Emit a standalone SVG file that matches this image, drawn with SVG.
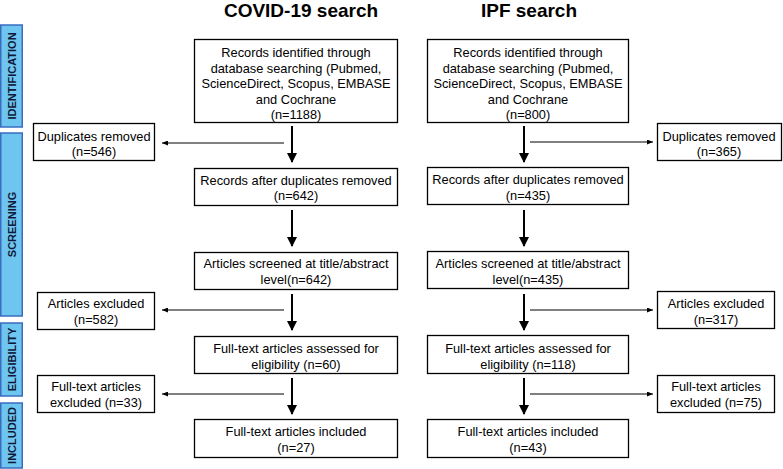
<svg xmlns="http://www.w3.org/2000/svg" width="783" height="469" viewBox="0 0 783 469">
<defs>
<style>
.bar{fill:#6ec5f0;stroke:#3a6cc0;stroke-width:1.5}
.bt{font-family:"Liberation Sans",Arial,sans-serif;font-weight:bold;font-size:11px;fill:#0f1a3a;text-anchor:middle}
.box{fill:#fff;stroke:#000;stroke-width:1.3}
.t{font-family:"Liberation Sans",Arial,sans-serif;font-size:12.8px;fill:#000;text-anchor:middle}
.h{font-family:"Liberation Sans",Arial,sans-serif;font-weight:bold;font-size:19px;fill:#000;text-anchor:middle}
.main{stroke:#000;stroke-width:2;fill:none}
.side{stroke:#000;stroke-width:1;fill:none}
</style>
<marker id="big" markerWidth="10" markerHeight="10" refX="9" refY="5" orient="auto" markerUnits="userSpaceOnUse">
<path d="M0,0 L10,5 L0,10 Z" fill="#000"/>
</marker>
<marker id="small" markerWidth="6" markerHeight="5" refX="6" refY="2.5" orient="auto" markerUnits="userSpaceOnUse">
<path d="M0,0 L6,2.5 L0,5 Z" fill="#000"/>
</marker>
</defs>
<rect width="783" height="469" fill="#fff"/>

<g id="phases">
<g id="phase-identification"><rect class="bar" x="0.75" y="25" width="21.5" height="102"/><text class="bt" transform="translate(15.5,76) rotate(-90)">IDENTIFICATION</text></g>
<g id="phase-screening"><rect class="bar" x="0.75" y="133" width="21.5" height="183"/><text class="bt" transform="translate(15.5,224.5) rotate(-90)">SCREENING</text></g>
<g id="phase-eligibility"><rect class="bar" x="0.75" y="323" width="21.5" height="73"/><text class="bt" transform="translate(15.5,359.5) rotate(-90)">ELIGIBILITY</text></g>
<g id="phase-included"><rect class="bar" x="0.75" y="403" width="21.5" height="65"/><text class="bt" transform="translate(15.5,435.5) rotate(-90)">INCLUDED</text></g>
</g>

<text class="h" x="301" y="17">COVID-19 search</text>
<text class="h" x="529" y="17">IPF search</text>

<g id="connectors">
<line class="main" x1="292" y1="126" x2="292" y2="162" marker-end="url(#big)"/>
<line class="main" x1="292" y1="210" x2="292" y2="246" marker-end="url(#big)"/>
<line class="main" x1="292" y1="294" x2="292" y2="330" marker-end="url(#big)"/>
<line class="main" x1="292" y1="378" x2="292" y2="414" marker-end="url(#big)"/>
<line class="side" x1="284" y1="143" x2="162" y2="143" marker-end="url(#small)"/>
<line class="side" x1="284" y1="310" x2="162" y2="310" marker-end="url(#small)"/>
<line class="side" x1="284" y1="394" x2="162" y2="394" marker-end="url(#small)"/>

<line class="main" x1="524" y1="126" x2="524" y2="162" marker-end="url(#big)"/>
<line class="main" x1="524" y1="210" x2="524" y2="246" marker-end="url(#big)"/>
<line class="main" x1="524" y1="294" x2="524" y2="330" marker-end="url(#big)"/>
<line class="main" x1="524" y1="378" x2="524" y2="414" marker-end="url(#big)"/>
<line class="side" x1="530" y1="142" x2="653" y2="142" marker-end="url(#small)"/>
<line class="side" x1="530" y1="310" x2="653" y2="310" marker-end="url(#small)"/>
<line class="side" x1="530" y1="394" x2="653" y2="394" marker-end="url(#small)"/>
</g>

<g id="covid-identified"><rect class="box" x="194.5" y="39.5" width="203" height="83"/>
<text class="t" x="296" y="57">Records identified through</text>
<text class="t" x="296" y="72.5">database searching (Pubmed,</text>
<text class="t" x="296" y="88">ScienceDirect, Scopus, EMBASE</text>
<text class="t" x="296" y="103.5">and Cochrane</text>
<text class="t" x="296" y="119">(n=1188)</text></g>

<g id="covid-duplicates"><rect class="box" x="33.5" y="123.5" width="121" height="37"/>
<text class="t" x="94" y="140.5">Duplicates removed</text>
<text class="t" x="94" y="156">(n=546)</text></g>

<g id="covid-after-dup"><rect class="box" x="194.5" y="168.5" width="203" height="37"/>
<text class="t" x="296" y="184.5">Records after duplicates removed</text>
<text class="t" x="296" y="200">(n=642)</text></g>

<g id="covid-screened"><rect class="box" x="194.5" y="252.5" width="203" height="37"/>
<text class="t" x="296" y="268">Articles screened at title/abstract</text>
<text class="t" x="296" y="284">level(n=642)</text></g>

<g id="covid-excluded"><rect class="box" x="37.5" y="292.5" width="117" height="37"/>
<text class="t" x="96" y="308">Articles excluded</text>
<text class="t" x="96" y="324">(n=582)</text></g>

<g id="covid-assessed"><rect class="box" x="194.5" y="336.5" width="203" height="37"/>
<text class="t" x="296" y="352.5">Full-text articles assessed for</text>
<text class="t" x="296" y="368.5">eligibility (n=60)</text></g>

<g id="covid-ft-excluded"><rect class="box" x="37.5" y="375.5" width="117" height="37"/>
<text class="t" x="96" y="391">Full-text articles</text>
<text class="t" x="96" y="407">excluded (n=33)</text></g>

<g id="covid-included"><rect class="box" x="194.5" y="419.5" width="203" height="38"/>
<text class="t" x="296" y="436">Full-text articles included</text>
<text class="t" x="296" y="452">(n=27)</text></g>

<g id="ipf-identified"><rect class="box" x="427.5" y="39.5" width="201" height="83"/>
<text class="t" x="528" y="57">Records identified through</text>
<text class="t" x="528" y="72.5">database searching (Pubmed,</text>
<text class="t" x="528" y="88">ScienceDirect, Scopus, EMBASE</text>
<text class="t" x="528" y="103.5">and Cochrane</text>
<text class="t" x="528" y="119">(n=800)</text></g>

<g id="ipf-duplicates"><rect class="box" x="657.5" y="123.5" width="124" height="37"/>
<text class="t" x="719" y="140.5">Duplicates removed</text>
<text class="t" x="719" y="156">(n=365)</text></g>

<g id="ipf-after-dup"><rect class="box" x="427.5" y="167.5" width="201" height="37"/>
<text class="t" x="528" y="184">Records after duplicates removed</text>
<text class="t" x="528" y="199.5">(n=435)</text></g>

<g id="ipf-screened"><rect class="box" x="427.5" y="251.5" width="201" height="37"/>
<text class="t" x="528" y="268">Articles screened at title/abstract</text>
<text class="t" x="528" y="284">level(n=435)</text></g>

<g id="ipf-excluded"><rect class="box" x="657.5" y="291.5" width="117" height="37"/>
<text class="t" x="716" y="308">Articles excluded</text>
<text class="t" x="716" y="324">(n=317)</text></g>

<g id="ipf-assessed"><rect class="box" x="427.5" y="335.5" width="201" height="38"/>
<text class="t" x="528" y="352.5">Full-text articles assessed for</text>
<text class="t" x="528" y="368.5">eligibility (n=118)</text></g>

<g id="ipf-ft-excluded"><rect class="box" x="657.5" y="375.5" width="117" height="37"/>
<text class="t" x="716" y="391">Full-text articles</text>
<text class="t" x="716" y="407">excluded (n=75)</text></g>

<g id="ipf-included"><rect class="box" x="427.5" y="419.5" width="201" height="38"/>
<text class="t" x="528" y="436">Full-text articles included</text>
<text class="t" x="528" y="452">(n=43)</text></g>
</svg>
